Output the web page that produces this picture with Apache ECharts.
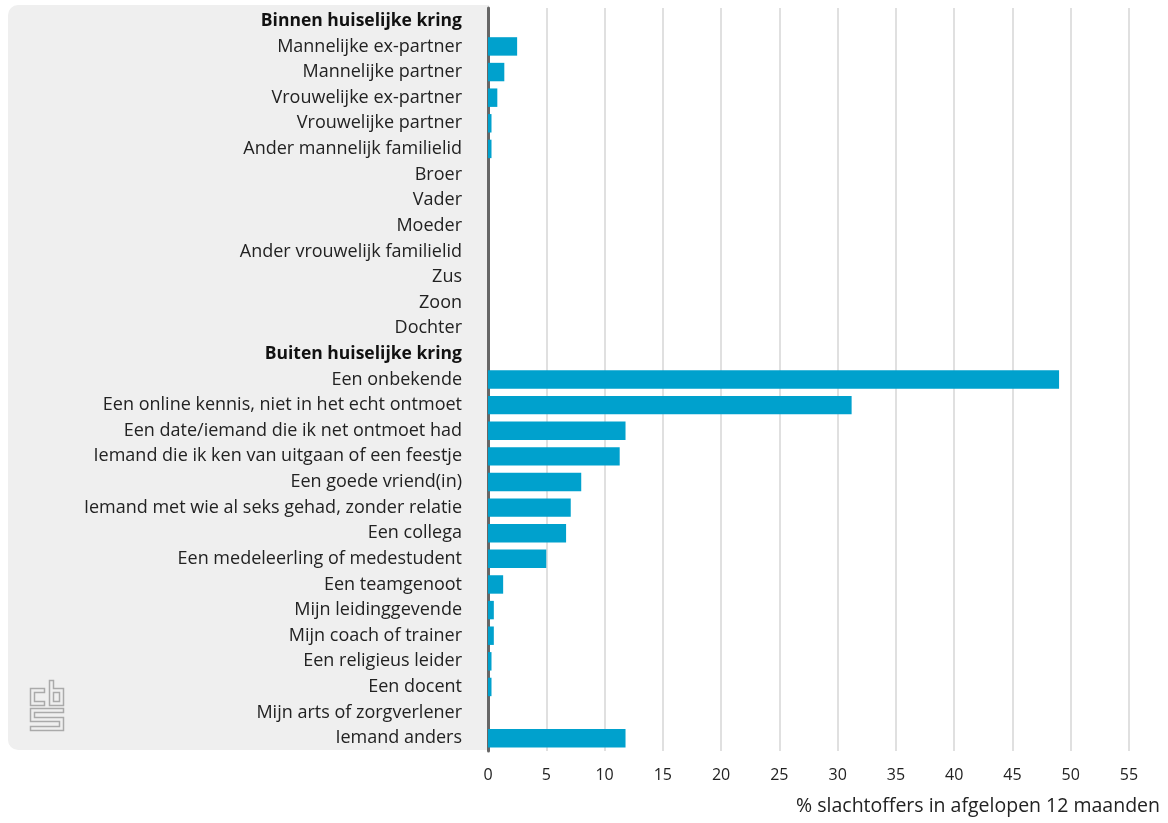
<!DOCTYPE html>
<html>
<head>
<meta charset="utf-8">
<script src="https://cdn.jsdelivr.net/npm/echarts@6/dist/echarts.min.js"></script>
<style>
  html, body { margin: 0; padding: 0; background: #fff; }
  #main { width: 1168px; height: 823px; }
</style>
</head>
<body>
<div id="main"></div>
<script>
// categorieen (kopjes staan er tussen als eigen regel)
var categories = [
    'Binnen huiselijke kring',
    'Mannelijke ex-partner', 'Mannelijke partner', 'Vrouwelijke ex-partner', 'Vrouwelijke partner',
    'Ander mannelijk familielid', 'Broer', 'Vader', 'Moeder', 'Ander vrouwelijk familielid',
    'Zus', 'Zoon', 'Dochter',
    'Buiten huiselijke kring',
    'Een onbekende', 'Een online kennis, niet in het echt ontmoet', 'Een date/iemand die ik net ontmoet had',
    'Iemand die ik ken van uitgaan of een feestje', 'Een goede vriend(in)',
    'Iemand met wie al seks gehad, zonder relatie', 'Een collega', 'Een medeleerling of medestudent',
    'Een teamgenoot', 'Mijn leidinggevende', 'Mijn coach of trainer', 'Een religieus leider',
    'Een docent', 'Mijn arts of zorgverlener', 'Iemand anders'
];
var headers = ['Binnen huiselijke kring', 'Buiten huiselijke kring'];
// % slachtoffers
var values = [
    null,
    2.5, 1.4, 0.8, 0.3,
    0.3, 0, 0, 0, 0,
    0, 0, 0,
    null,
    49.0, 31.2, 11.8,
    11.3, 8.0,
    7.1, 6.7, 5.0,
    1.3, 0.5, 0.5, 0.3,
    0.3, 0, 11.8
];
var xTicks = { min: 0, max: 55, interval: 5 };

var logoStyle = { stroke: '#aaaaaa', lineWidth: 1.5, fill: null };

var chart = echarts.init(document.getElementById('main'));
var option = {
    animation: false,
    textStyle: { fontFamily: 'Open Sans' },
    grid: { left: 488, right: 39, top: 8, bottom: 72 },
    graphic: [
        {
            type: 'rect',
            z: -10,
            shape: { x: 8, y: 5, width: 481, height: 745, r: [10, 0, 0, 10] },
            style: { fill: '#efefef' }
        },
        // cbs logo (vereenvoudigd)
        {
            type: 'group',
            left: 28, top: 678,
            children: [
                { type: 'polygon', shape: { points: [[0, 8], [14, 8], [14, 12], [4, 12], [4, 21], [14, 21], [14, 25], [0, 25]] }, style: logoStyle },
                { type: 'polygon', shape: { points: [[19, 0], [23, 0], [23, 8], [33, 8], [33, 25], [19, 25]] }, style: logoStyle },
                { type: 'rect', shape: { x: 23, y: 12, width: 6, height: 9 }, style: logoStyle },
                { type: 'polygon', shape: { points: [[0, 28], [33, 28], [33, 32], [4, 32], [4, 37], [33, 37], [33, 50], [0, 50], [0, 46], [29, 46], [29, 41], [0, 41]] }, style: logoStyle }
            ]
        }
    ],
    xAxis: {
        type: 'value',
        min: xTicks.min,
        max: xTicks.max,
        interval: xTicks.interval,
        name: '% slachtoffers in afgelopen 12 maanden',
        nameLocation: 'end',
        nameGap: 31,
        nameTextStyle: {
            align: 'right',
            verticalAlign: 'top',
            padding: [45, 0, 0, 0],
            fontSize: 19.5,
            color: '#222'
        },
        axisLine: { show: false },
        axisTick: { show: false },
        axisLabel: { margin: 16, fontSize: 16, color: '#222' },
        splitLine: { show: true, lineStyle: { color: '#e0e0e0', width: 2 } }
    },
    yAxis: {
        type: 'category',
        inverse: true,
        data: categories,
        axisLine: { show: true, lineStyle: { color: '#666', width: 3 } },
        axisTick: { show: false },
        axisLabel: {
            margin: 26,
            fontSize: 18,
            color: '#222',
            formatter: function (v) {
                return headers.indexOf(v) >= 0 ? '{h|' + v + '}' : v;
            },
            rich: {
                h: { fontWeight: 'bold', fontSize: 17.5, color: '#111' }
            }
        },
        splitLine: { show: false }
    },
    series: [{
        type: 'bar',
        data: values,
        barCategoryGap: '28%',
        itemStyle: { color: '#00a1cd' }
    }]
};
chart.setOption(option);
</script>
</body>
</html>
